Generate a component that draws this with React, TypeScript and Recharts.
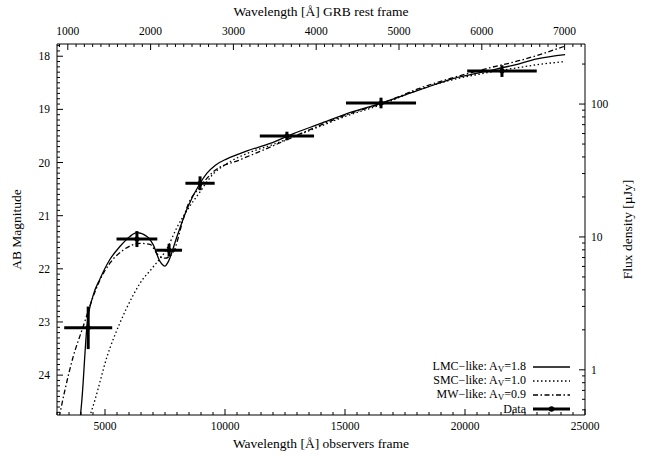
import React from 'react';
import { ComposedChart, Line, Scatter, ErrorBar, XAxis, YAxis, Legend } from 'recharts';

// photometry: observed wavelength [Å], half filter width, AB mag, mag error
const dataWave = [4300, 6330, 7670, 8960, 12580, 16500, 21540];
const dataWaveErr = [1000, 850, 540, 610, 1130, 1460, 1450];
const dataMag = [23.11, 21.44, 21.65, 20.39, 19.5, 18.88, 18.28];
const dataMagErr = [0.4, 0.15, 0.12, 0.13, 0.08, 0.1, 0.11];

// model SEDs (observed wavelength, AB mag)
const lmcWave = [3900, 4040, 4250, 4500, 4790, 5210, 5620, 6040, 6330, 6750, 7000, 7290, 7500, 7620, 8000, 8420, 8960, 9250, 9600, 10080, 10920, 11880, 12830, 13960, 15080, 16460, 18130, 19500, 20920, 22000, 23000, 24170];
const lmcMag = [25.1, 24.45, 23.07, 22.51, 22.19, 21.82, 21.58, 21.39, 21.32, 21.39, 21.54, 21.86, 21.95, 21.88, 21.39, 20.87, 20.39, 20.2, 20.05, 19.93, 19.78, 19.64, 19.46, 19.27, 19.08, 18.89, 18.63, 18.42, 18.28, 18.17, 18.05, 17.97];

const smcWave = [4200, 4580, 5080, 5620, 6170, 6460, 7000, 7580, 8000, 8420, 8960, 9500, 10080, 10920, 11880, 12830, 13960, 15080, 16460, 18130, 19500, 20920, 22290, 23000, 24170];
const smcMag = [25.0, 24.47, 23.66, 23.02, 22.5, 22.27, 21.97, 21.62, 21.22, 20.9, 20.55, 20.22, 20.02, 19.83, 19.68, 19.52, 19.32, 19.12, 18.92, 18.62, 18.44, 18.31, 18.21, 18.16, 18.1];

const mwWave = [3000, 3330, 3670, 4080, 4500, 4790, 5210, 5750, 6460, 6875, 7210, 7500, 7830, 8250, 8420, 8960, 9500, 10620, 11880, 12830, 13960, 15080, 16460, 18130, 20920, 22290, 24170];
const mwMag = [25.0, 24.28, 23.66, 23.1, 22.53, 22.21, 21.89, 21.65, 21.52, 21.54, 21.74, 21.8, 21.7, 21.08, 20.84, 20.46, 20.18, 19.95, 19.71, 19.52, 19.3, 19.1, 18.9, 18.6, 18.23, 18.08, 17.81];

// axes
const onePlusZ = 3.45;
const obsDomain = [3000, 25000];
const magDomain = [17.77, 24.75];
const obsMajor = [5000, 10000, 15000, 20000, 25000];
const restMajor = [1000, 2000, 3000, 4000, 5000, 6000, 7000];
const magMajor = [18, 19, 20, 21, 22, 23, 24];
const fluxMajor = [1, 10, 100];
const fluxMinor = [0.5, 0.6, 0.7, 0.8, 0.9, 2, 3, 4, 5, 6, 7, 8, 9, 20, 30, 40, 50, 60, 70, 80, 90, 200];

const steps = (from: number, to: number, step: number) => {
  const out: number[] = [];
  for (let v = from; v <= to + 1e-9; v += step) out.push(Math.round(v * 1000) / 1000);
  return out;
};
const obsTicks = steps(3000, 25000, 500);
const restTicks = steps(900, 7200, 100);
const magTicks = steps(17.8, 24.7, 0.1);
const fluxToMag = (f: number) => 23.9 - 2.5 * Math.log10(f);
const fluxTicks = [...fluxMajor, ...fluxMinor].sort((a, b) => a - b).map(fluxToMag);

const zip = (w: number[], m: number[]) => w.map((x, i) => ({ x, y: m[i] }));
const lmcData = zip(lmcWave, lmcMag);
const smcData = zip(smcWave, smcMag);
const mwData = zip(mwWave, mwMag);
const pointData = dataWave.map((x, i) => ({ x, y: dataMag[i], xe: dataWaveErr[i], ye: dataMagErr[i] }));

const FONT = '"Liberation Serif", "DejaVu Serif", serif';
const near = (a: number, b: number) => Math.abs(a - b) < 1e-6;

const BottomTick = (p: any) => {
  const v = p.payload.value;
  const major = obsMajor.some((m) => near(m, v));
  return (
    <g>
      <line x1={p.x} x2={p.x} y1={p.y} y2={p.y - (major ? 6 : 3)} stroke="#000" />
      {major && (
        <text x={p.x} y={p.y + 15} textAnchor="middle" fontSize={11.5} fontFamily={FONT} fill="#000">{v}</text>
      )}
    </g>
  );
};

const TopTick = (p: any) => {
  const v = p.payload.value;
  const major = restMajor.some((m) => near(m, v));
  return (
    <g>
      <line x1={p.x} x2={p.x} y1={p.y} y2={p.y + (major ? 6 : 3)} stroke="#000" />
      {major && (
        <text x={p.x} y={p.y - 9} textAnchor="middle" fontSize={11.5} fontFamily={FONT} fill="#000">{v}</text>
      )}
    </g>
  );
};

const LeftTick = (p: any) => {
  const v = p.payload.value;
  const major = magMajor.some((m) => near(m, v));
  return (
    <g>
      <line x1={p.x} x2={p.x + (major ? 6 : 3)} y1={p.y} y2={p.y} stroke="#000" />
      {major && (
        <text x={p.x - 7} y={p.y + 4} textAnchor="end" fontSize={11.5} fontFamily={FONT} fill="#000">{v}</text>
      )}
    </g>
  );
};

const RightTick = (p: any) => {
  const flux = Math.pow(10, (23.9 - p.payload.value) / 2.5);
  const major = fluxMajor.some((m) => Math.abs(m - flux) / m < 1e-3);
  return (
    <g>
      <line x1={p.x} x2={p.x - (major ? 6 : 3)} y1={p.y} y2={p.y} stroke="#000" />
      {major && (
        <text x={p.x + 6} y={p.y + 4} textAnchor="start" fontSize={11.5} fontFamily={FONT} fill="#000">{Math.round(flux)}</text>
      )}
    </g>
  );
};

const titleStyle = { fontSize: 13.5, fontFamily: FONT, fill: '#000' };

const bottomTitle = (p: any) => {
  const { x, y, width } = p.viewBox;
  return <text x={x + width / 2} y={y + 33} textAnchor="middle" {...titleStyle}>Wavelength [Å] observers frame</text>;
};
const topTitle = (p: any) => {
  const { x, width } = p.viewBox;
  return <text x={x + width / 2} y={16} textAnchor="middle" {...titleStyle}>Wavelength [Å] GRB rest frame</text>;
};
const leftTitle = (p: any) => {
  const { y, height } = p.viewBox;
  const cx = 21;
  const cy = y + height / 2;
  return <text x={cx} y={cy} transform={`rotate(-90 ${cx} ${cy})`} textAnchor="middle" {...titleStyle}>AB Magnitude</text>;
};
const rightTitle = (p: any) => {
  const { y, height } = p.viewBox;
  const cx = 632;
  const cy = y + height / 2;
  return <text x={cx} y={cy} transform={`rotate(-90 ${cx} ${cy})`} textAnchor="middle" {...titleStyle}>Flux density [µJy]</text>;
};

const legendRows = [
  { name: 'LMC\u2212like: ', av: '1.8', dash: undefined as string | undefined, width: 1.3 },
  { name: 'SMC\u2212like: ', av: '1.0', dash: '1.5 2.5', width: 1.3 },
  { name: 'MW\u2212like: ', av: '0.9', dash: '5 2.5 1.5 2.5', width: 1.3 },
];

const renderLegend = () => (
  <div style={{ fontFamily: FONT, fontSize: 12, color: '#000', lineHeight: '14px' }}>
    {legendRows.map((r) => (
      <div key={r.name} style={{ display: 'flex', justifyContent: 'flex-end', alignItems: 'center', height: 14 }}>
        <span>
          {r.name}A<sub style={{ fontSize: 9, verticalAlign: '-2px' }}>V</sub>={r.av}
        </span>
        <svg width={44} height={10} style={{ marginLeft: 6 }}>
          <line x1={1} x2={38} y1={5} y2={5} stroke="#000" strokeWidth={r.width} strokeDasharray={r.dash} />
        </svg>
      </div>
    ))}
    <div style={{ display: 'flex', justifyContent: 'flex-end', alignItems: 'center', height: 14 }}>
      <span>Data</span>
      <svg width={44} height={10} style={{ marginLeft: 6 }}>
        <line x1={1} x2={38} y1={5} y2={5} stroke="#000" strokeWidth={3} />
        <circle cx={19.5} cy={5} r={2.8} fill="#000" />
      </svg>
    </div>
  </div>
);

export default function App() {
  return (
    <div style={{ position: 'absolute', left: 0, top: 0, width: 646, height: 456, background: '#fff' }}>
      <ComposedChart width={646} height={456} margin={{ top: 0, right: 0, bottom: 0, left: 0 }}>
        <XAxis
          xAxisId="obs"
          type="number"
          dataKey="x"
          orientation="bottom"
          domain={obsDomain}
          allowDataOverflow
          ticks={obsTicks}
          interval={0}
          height={41}
          tickSize={0}
          tickMargin={0}
          tickLine={false}
          tick={BottomTick}
          axisLine={{ stroke: '#000' }}
          label={{ content: bottomTitle }}
        />
        <XAxis
          xAxisId="rest"
          type="number"
          dataKey="x"
          orientation="top"
          domain={[obsDomain[0] / onePlusZ, obsDomain[1] / onePlusZ]}
          allowDataOverflow
          ticks={restTicks}
          interval={0}
          height={44}
          tickSize={0}
          tickMargin={0}
          tickLine={false}
          tick={TopTick}
          axisLine={{ stroke: '#000' }}
          label={{ content: topTitle }}
        />
        <YAxis
          yAxisId="mag"
          type="number"
          dataKey="y"
          orientation="left"
          reversed
          domain={magDomain}
          allowDataOverflow
          ticks={magTicks}
          interval={0}
          width={57}
          tickSize={0}
          tickMargin={0}
          tickLine={false}
          tick={LeftTick}
          axisLine={{ stroke: '#000' }}
          label={{ content: leftTitle }}
        />
        <YAxis
          yAxisId="flux"
          type="number"
          dataKey="y"
          orientation="right"
          reversed
          domain={magDomain}
          allowDataOverflow
          ticks={fluxTicks}
          interval={0}
          width={61}
          tickSize={0}
          tickMargin={0}
          tickLine={false}
          tick={RightTick}
          axisLine={{ stroke: '#000' }}
          label={{ content: rightTitle }}
        />
        <Line xAxisId="obs" yAxisId="mag" data={lmcData} dataKey="y" type="monotone" stroke="#000" strokeWidth={1.3} dot={false} isAnimationActive={false} />
        <Line xAxisId="obs" yAxisId="mag" data={smcData} dataKey="y" type="monotone" stroke="#000" strokeWidth={1.3} strokeDasharray="1.5 2.5" dot={false} isAnimationActive={false} />
        <Line xAxisId="obs" yAxisId="mag" data={mwData} dataKey="y" type="monotone" stroke="#000" strokeWidth={1.3} strokeDasharray="5 2.5 1.5 2.5" dot={false} isAnimationActive={false} />
        <Scatter
          xAxisId="obs"
          yAxisId="mag"
          data={pointData}
          dataKey="y"
          fill="#000"
          isAnimationActive={false}
          shape={(p: any) => <circle cx={p.cx} cy={p.cy} r={2.5} fill="#000" />}
        >
          <ErrorBar dataKey="xe" direction="x" width={0} stroke="#000" strokeWidth={3} isAnimationActive={false} />
          <ErrorBar dataKey="ye" direction="y" width={0} stroke="#000" strokeWidth={3} isAnimationActive={false} />
        </Scatter>
        <Legend
          layout="horizontal"
          verticalAlign="middle"
          align="center"
          wrapperStyle={{ position: 'absolute', left: 380, top: 360, width: 196, height: 56 }}
          content={renderLegend}
        />
      </ComposedChart>
    </div>
  );
}
